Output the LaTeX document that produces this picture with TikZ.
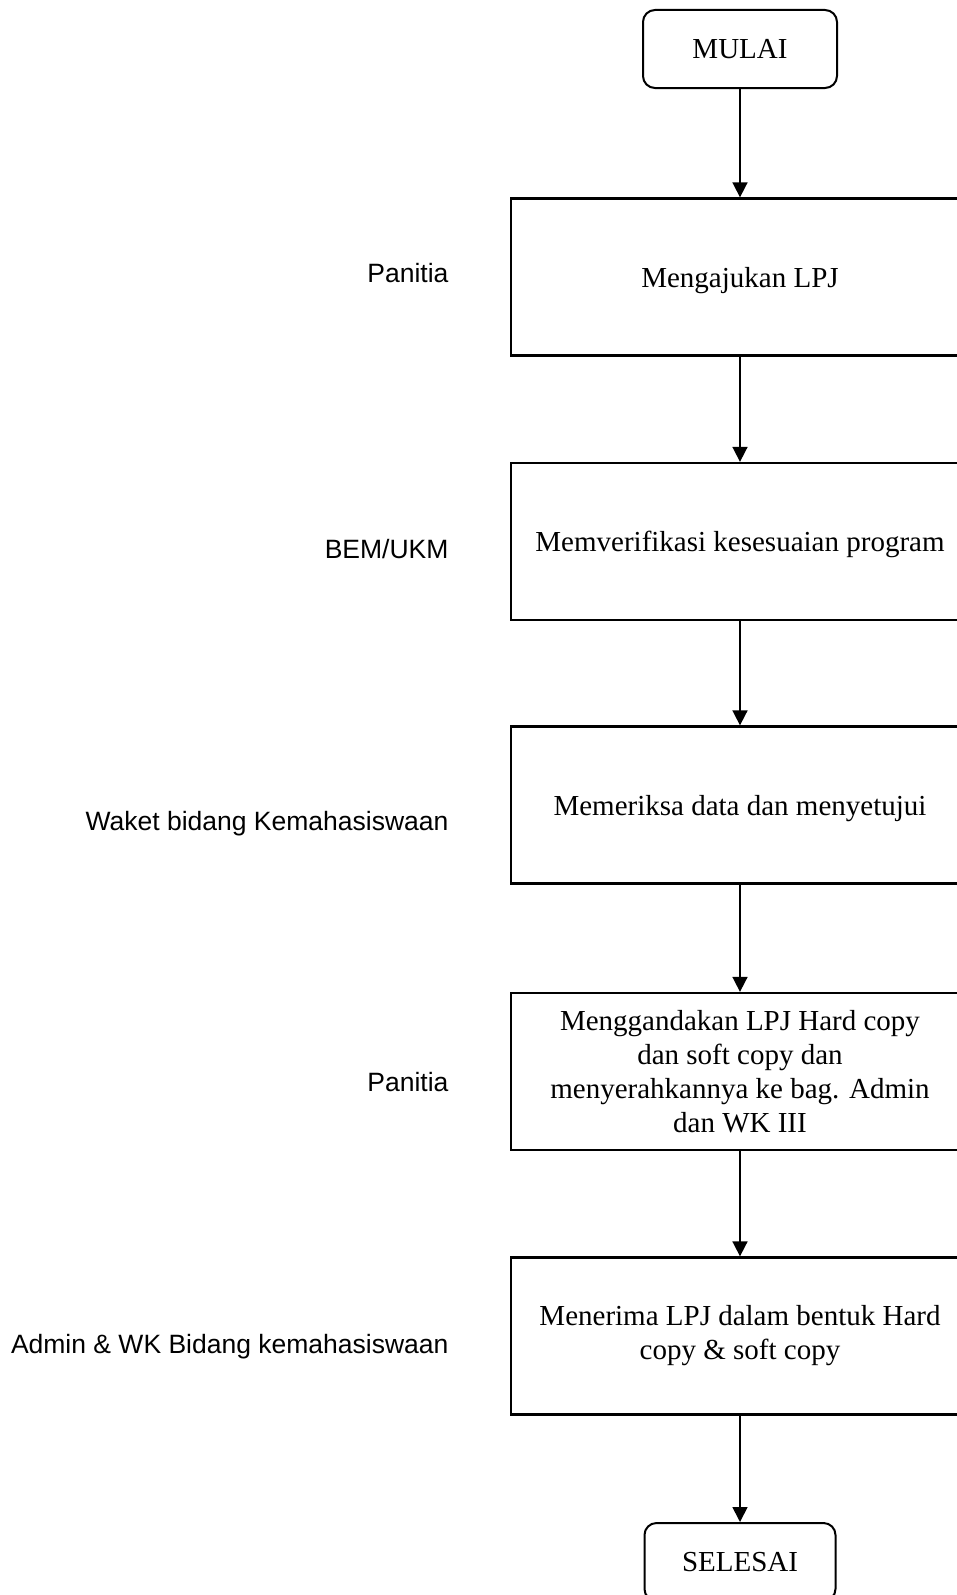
\documentclass[tikz,border=0pt]{standalone}
\usepackage{fontspec}
\setmainfont{Liberation Serif}
\setsansfont{Liberation Sans}
\usetikzlibrary{arrows.meta}

\begin{document}
\begin{tikzpicture}[x=1pt,y=-1pt,
  proses/.style={draw,line width=2.3pt,minimum width=458pt,minimum height=157pt,text depth=0pt,align=center,font=\fontsize{29}{34}\selectfont},
  terminal/.style={draw,line width=2pt,rounded corners=12pt,minimum width=194pt,minimum height=78pt,font=\fontsize{29}{34}\selectfont},
  pelaku/.style={anchor=base east,font=\sffamily\fontsize{26.5}{30}\selectfont},
  alur/.style={-{Triangle[width=15pt,length=15pt]},line width=1.7pt}]
%\draw[help lines] (0,0) grid (957,1595);
\useasboundingbox (0,0) rectangle (957,1595);
\clip (0,0) rectangle (957,1595);

\node (mulai) at (740,49) [terminal] {MULAI};
\node (ajukan) at (740,277) [proses] {Mengajukan LPJ};
\node (verifikasi) at (740,541.5) [proses] {Memverifikasi kesesuaian program};
\node (periksa) at (740,805) [proses] {Memeriksa data dan menyetujui};
\node (gandakan) at (740,1071.5) [proses] {Menggandakan LPJ Hard copy\\dan soft copy dan\\menyerahkannya ke bag. Admin\\dan WK III};
\node (terima) at (740,1336) [proses,text depth=] {Menerima LPJ dalam bentuk Hard\\copy \& soft copy};
\node (selesai) at (740,1562) [terminal,minimum width=191pt] {SELESAI};

\draw [alur] (mulai) -- (ajukan);
\draw [alur] (ajukan) -- (verifikasi);
\draw [alur] (verifikasi) -- (periksa);
\draw [alur] (periksa) -- (gandakan);
\draw [alur] (gandakan) -- (terima);
\draw [alur] (terima) -- (selesai);

\node (panitia) at (452,282) [pelaku] {Panitia};
\node (bem) at (452,558) [pelaku] {BEM/UKM};
\node (waket) at (452,830) [pelaku] {Waket bidang Kemahasiswaan};
\node (panitiadua) at (452,1091) [pelaku] {Panitia};
\node (admin) at (452,1353) [pelaku] {Admin \& WK Bidang kemahasiswaan};
\end{tikzpicture}
\end{document}
